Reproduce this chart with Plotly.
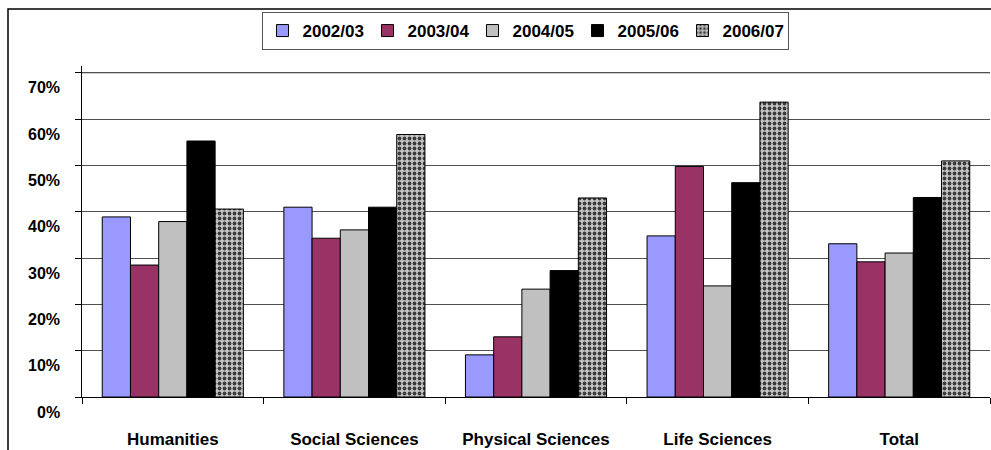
import plotly.graph_objects as go

categories = ["Humanities", "Social Sciences", "Physical Sciences", "Life Sciences", "Total"]
series_names = ["2002/03", "2003/04", "2004/05", "2005/06", "2006/07"]
v_2002_03 = [0.389, 0.410, 0.091, 0.348, 0.331]
v_2003_04 = [0.285, 0.343, 0.130, 0.498, 0.292]
v_2004_05 = [0.379, 0.361, 0.233, 0.240, 0.311]
v_2005_06 = [0.553, 0.410, 0.273, 0.463, 0.431]
v_2006_07 = [0.406, 0.567, 0.430, 0.637, 0.510]
series_values = [v_2002_03, v_2003_04, v_2004_05, v_2005_06, v_2006_07]
y_tick_values = [0, 0.1, 0.2, 0.3, 0.4, 0.5, 0.6, 0.7]
y_tick_labels = ["0%", "10%", "20%", "30%", "40%", "50%", "60%", "70%"]

colors = ["#9999FF", "#993366", "#C0C0C0", "#000000", "#C8C8C8"]
FONT = "Liberation Sans, Arial, sans-serif"

# plot area geometry (pixels)
L, R, T, B = 82, 1, 66, 53
W_PLOT = 991 - L - R
H_PLOT = 450 - T - B

fig = go.Figure()
for i, (name, vals) in enumerate(zip(series_names, series_values)):
    marker = dict(color=colors[i], line=dict(color="#000000", width=1))
    if i == 4:
        marker["pattern"] = dict(shape=".", fgcolor="#3c3c3c", bgcolor="#c6c6c6",
                                 size=5, solidity=0.45, fillmode="replace")
    fig.add_trace(go.Bar(x=categories, y=vals, name=name, marker=marker))

for v, lab in zip(y_tick_values, y_tick_labels):
    fig.add_annotation(x=0, xref="paper", y=v, yref="y", text=lab, showarrow=False,
                       xanchor="right", yanchor="middle", xshift=-20, yshift=-15,
                       font=dict(family=FONT, size=16, color="#000000", weight="bold"))

# top gridline of the value axis (the 70% line)
fig.add_hline(y=y_tick_values[-1], line=dict(color="#8a8a8a", width=1), layer="below")

# outer chart border (extends beyond the visible canvas)
fig.add_shape(type="rect", xref="paper", yref="paper",
              x0=(8 - L) / W_PLOT, x1=1.5, y0=-0.5, y1=(450 - B - 9) / H_PLOT,
              line=dict(color="#000000", width=1.5), fillcolor="rgba(0,0,0,0)", layer="below")

fig.update_layout(
    width=991, height=450,
    margin=dict(l=L, r=R, t=T, b=B, autoexpand=False),
    paper_bgcolor="#FFFFFF", plot_bgcolor="#FFFFFF",
    barmode="group", bargap=0.223, bargroupgap=0,
    showlegend=True,
    legend=dict(orientation="h", x=(525 - L) / W_PLOT, xanchor="center",
                y=(450 - B - 12) / H_PLOT, yanchor="top",
                bordercolor="#555555", borderwidth=1, bgcolor="#FFFFFF",
                font=dict(family=FONT, size=17, color="#000000", weight="bold"),
                itemwidth=30, traceorder="normal",
                entrywidth=60, entrywidthmode="pixels"),
    xaxis=dict(type="category", tickson="boundaries", ticks="outside", ticklen=6,
               tickcolor="#000000", showline=True, linecolor="#000000", linewidth=1,
               showgrid=False, ticklabelstandoff=27,
               tickfont=dict(family=FONT, size=17, color="#000000", weight="bold")),
    yaxis=dict(range=[0, 0.715], tickmode="linear", tick0=0, dtick=0.1, showticklabels=False,
               ticks="outside", ticklen=6, tickcolor="#000000",
               showline=True, linecolor="#000000", linewidth=1,
               showgrid=True, gridcolor="#505050", gridwidth=1, zeroline=False),
)

fig.write_html("out.html", config={"displayModeBar": False},
               post_script="document.body.style.margin='0';document.body.style.overflow='hidden';")
